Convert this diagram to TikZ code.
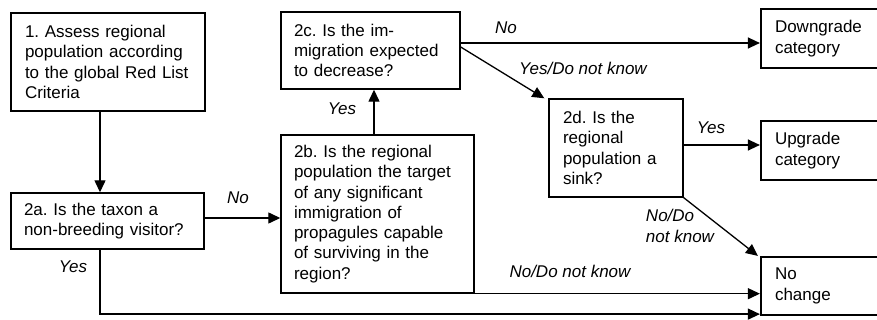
\documentclass[tikz,border=0pt]{standalone}
\usepackage{fontspec}
\setmainfont{Liberation Sans}
\usetikzlibrary{arrows.meta}
\begin{document}
\frenchspacing
\begin{tikzpicture}[x=1pt,y=-1pt,
  every node/.style={font=\fontsize{17}{20.3}\selectfont},
  box/.style n args={3}{draw, line width=1.4pt, align=left, inner ysep=0pt,
     inner xsep=#3, minimum width=#1, minimum height=#2, text width=#1-2*#3},
  thickbox/.style={line width=2.2pt},
  arr/.style={line width=1.3pt, -{Triangle[length=12pt,width=11pt]}},
  lab/.style={font=\fontsize{17}{20.3}\selectfont\itshape, inner sep=0pt}]
\useasboundingbox (0,0) rectangle (877,320);
\fill[white] (0,0) rectangle (877,320);
% boxes
\node[box={194pt}{98pt}{14pt}, thickbox] (b1) at (108,62)
  {\mbox{1. Assess regional}\\\mbox{population according}\\\mbox{to the global Red List}\\Criteria};
\node[box={193pt}{56pt}{13pt}] (b2a) at (107.5,221)
  {\mbox{2a. Is the taxon a}\\\mbox{non-breeding visitor?}};
\node[box={179pt}{77pt}{13pt}] (b2c) at (370.5,50.5)
  {\mbox{2c. Is the im-}\\\mbox{migration expected}\\\mbox{to decrease?}};
\node[box={193pt}{158pt}{13pt}] (b2b) at (377.5,214)
  {\mbox{2b. Is the regional}\\\mbox{population the target}\\\mbox{of any significant}\\\mbox{immigration of}\\\mbox{propagules capable}\\\mbox{of surviving in the}\\region?};
\node[box={134pt}{98pt}{14pt}] (b2d) at (616,148)
  {\mbox{2d. Is the}\\regional\\\mbox{population a}\\sink?};
\node[box={150pt}{59pt}{14pt}, thickbox] (bdown) at (836,38.5)
  {Downgrade\\category};
\node[box={150pt}{59pt}{14pt}, thickbox] (bup) at (836,150.5)
  {Upgrade\\category};
\node[box={150pt}{58pt}{14pt}, thickbox] (bno) at (836,286)
  {No\\change};
% connectors
\draw[arr] ([xshift=-8pt]b1.south) -- ([xshift=-8pt]b1.south |- b2a.north);
\draw[arr] ([yshift=3pt]b2a.east) -- ([yshift=3pt]b2a.east -| b2b.west);
\draw[arr] ([xshift=-3.5pt]b2b.north) -- ([xshift=-3.5pt]b2b.north |- b2c.south);
\draw[arr] ([yshift=7.5pt]b2c.east) -- ([yshift=7.5pt]b2c.east -| bdown.west);
\draw[arr] ([yshift=3.5pt]b2c.east) -- ([xshift=-4pt]b2d.north west);
\draw[arr] ([yshift=3pt]b2d.east) -- ([yshift=3pt]b2d.east -| bup.west);
\draw[arr] (b2d.south east) -- ([xshift=-2pt]bno.north west);
\draw[arr] (b2b.south east) -- (b2b.south east -| bno.west);
\draw[arr] ([xshift=-7.5pt]b2a.south) |- ([yshift=2pt]bno.south west);
% labels
\node[lab] (lNo1) at (238,198) {No};
\node[lab] (lYes1) at (342,109) {Yes};
\node[lab] (lYes2) at (73,267) {Yes};
\node[lab] (lNo2) at (506,28) {No};
\node[lab] (lYDK) at (583,68) {Yes/Do not know};
\node[lab] (lYes3) at (711,128) {Yes};
\node[lab, align=left] (lNDK1) at (680,226) {No/Do\\not know};
\node[lab] (lNDK2) at (570,271) {No/Do not know};
\end{tikzpicture}
\end{document}
